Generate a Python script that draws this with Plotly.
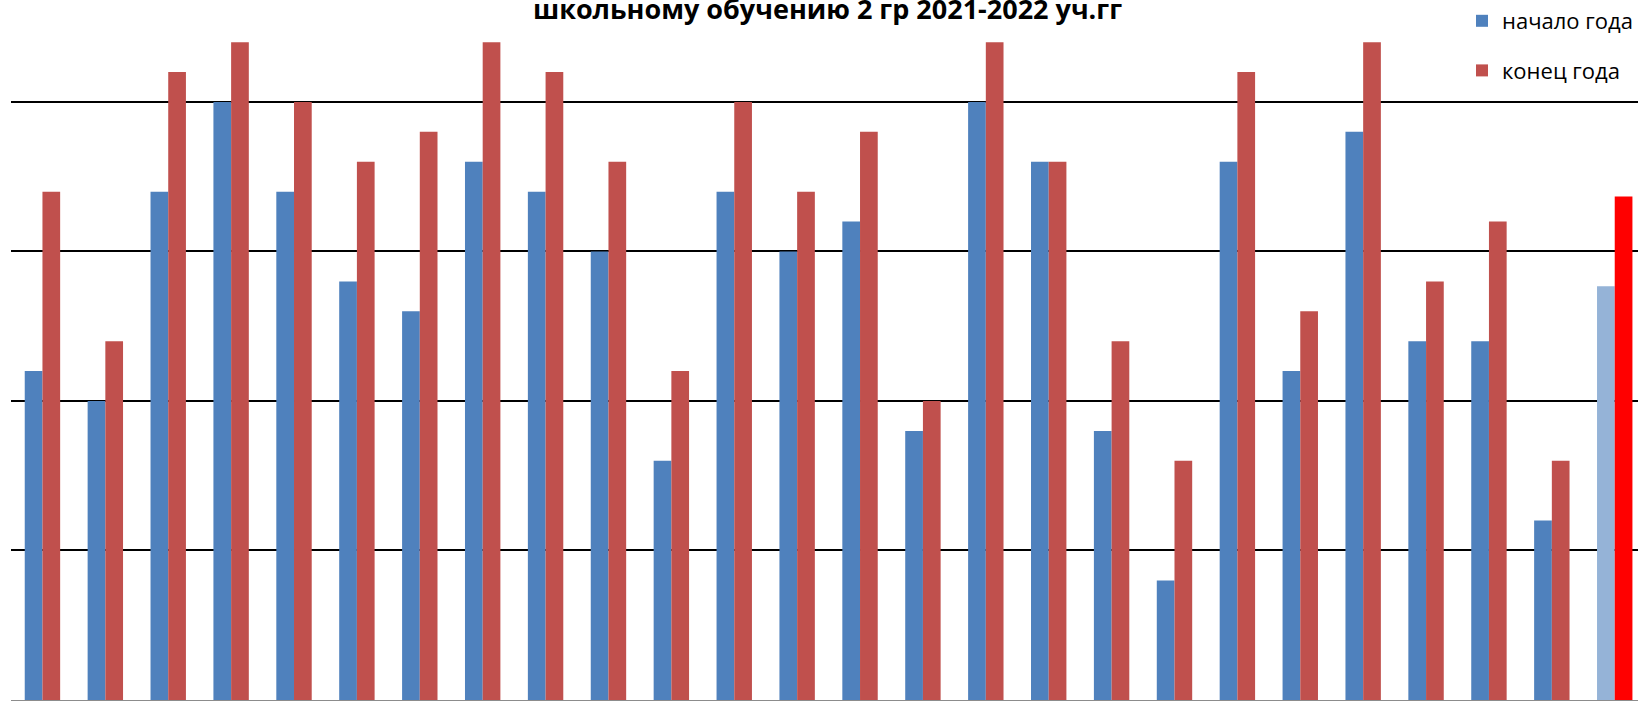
import plotly.graph_objects as go

# Data
categories = [str(i) for i in range(1, 26)] + ["среднее"]
start_of_year = [11, 10, 17, 20, 17, 14, 13, 18, 17, 15, 8, 17, 15, 16, 9,
                 20, 18, 9, 4, 18, 11, 19, 12, 12, 6, 13.84]
end_of_year = [17, 12, 21, 22, 20, 18, 19, 22, 21, 18, 11, 20, 17, 19, 10,
               22, 18, 12, 8, 21, 13, 22, 14, 16, 8, 16.84]
series_names = ["начало года", "конец года"]
title_text = "школьному обучению 2 гр 2021-2022 уч.гг"

BLUE = "#4F81BD"
RED = "#C0504D"
BLUE_AVG = "#95B3D7"
RED_AVG = "#FF0000"

blue_colors = [BLUE] * (len(categories) - 1) + [BLUE_AVG]
red_colors = [RED] * (len(categories) - 1) + [RED_AVG]

fig = go.Figure()
fig.add_trace(go.Bar(
    x=categories, y=start_of_year, name=series_names[0],
    marker=dict(color=blue_colors, line=dict(width=0)),
    legendgroup="a",
))
fig.add_trace(go.Bar(
    x=categories, y=end_of_year, name=series_names[1],
    marker=dict(color=red_colors, line=dict(width=0)),
    legendgroup="b",
))

fig.update_layout(
    width=1638, height=701,
    margin=dict(l=11, r=0, t=0, b=1),
    paper_bgcolor="white", plot_bgcolor="white",
    barmode="group", bargap=0.437, bargroupgap=0,
    font=dict(family="Open Sans, Noto Sans, sans-serif", color="#000000"),
    showlegend=True,
    legend=dict(
        x=1, xanchor="right", y=1, yanchor="top",
        bgcolor="rgba(0,0,0,0)",
        font=dict(size=22, family="Open Sans, Noto Sans, sans-serif"),
        traceorder="grouped", tracegroupgap=18,
        itemsizing="constant",
    ),
    xaxis=dict(
        type="category", range=[-0.5, 25.37],
        showticklabels=False, ticks="", showgrid=False,
        showline=True, linecolor="#8C8C8C", linewidth=2,
        zeroline=False,
    ),
    yaxis=dict(
        range=[0, 23.41],
        tickvals=[5, 10, 15, 20], showticklabels=False, ticks="",
        showgrid=True, gridcolor="#000000", gridwidth=2,
        zeroline=False, showline=False,
    ),
    annotations=[dict(
        text="<b>" + title_text + "</b>",
        xref="paper", yref="paper", x=0.502, y=1,
        xanchor="center", yanchor="top", yshift=12,
        showarrow=False,
        font=dict(size=27, family="Open Sans, Noto Sans, sans-serif", color="#000000"),
    )],
)

fig.write_html(
    "out.html",
    config={"displayModeBar": False},
    post_script="document.body.style.margin='0';document.body.style.overflow='hidden';",
)
